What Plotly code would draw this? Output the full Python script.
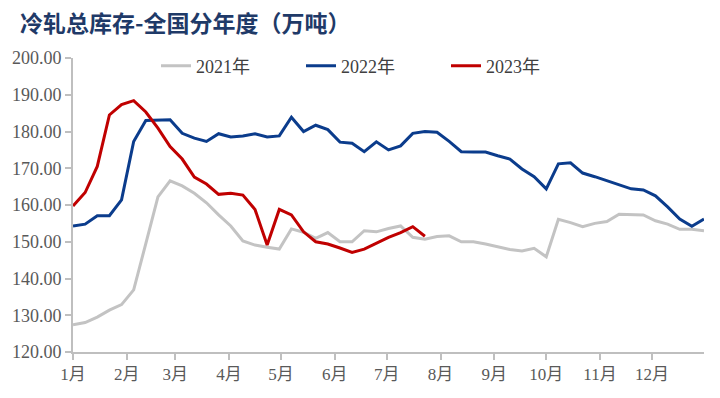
import plotly.graph_objects as go

# ---- data ----
weeks = list(range(1, 54))
month_labels = ["1月", "2月", "3月", "4月", "5月", "6月", "7月", "8月", "9月", "10月", "11月", "12月"]
month_start_days = [0, 31, 59, 90, 120, 151, 181, 212, 243, 273, 304, 334]
y_ticks = [120, 130, 140, 150, 160, 170, 180, 190, 200]

v2021 = [127.4, 128.0, 129.5, 131.4, 132.9, 136.9, 149.5, 162.2, 166.6, 165.2,
         163.2, 160.6, 157.3, 154.3, 150.2, 149.1, 148.5, 148.0, 153.5, 152.6,
         150.9, 152.5, 150.0, 150.0, 153.0, 152.7, 153.6, 154.3, 151.2, 150.7,
         151.4, 151.6, 150.0, 150.0, 149.4, 148.6, 147.9, 147.5, 148.2, 145.9,
         156.1, 155.2, 154.1, 155.0, 155.5, 157.5, 157.3, 157.3, 155.7, 154.8,
         153.4, 153.4, 153.0]
v2022 = [154.3, 154.8, 157.1, 157.1, 161.4, 177.3, 183.0, 183.2, 183.2, 179.5,
         178.2, 177.3, 179.4, 178.5, 178.8, 179.4, 178.5, 178.8, 183.9, 180.0,
         181.7, 180.5, 177.1, 176.8, 174.5, 177.2, 175.0, 176.1, 179.5, 180.0,
         179.8, 177.3, 174.5, 174.4, 174.4, 173.4, 172.5, 169.8, 167.7, 164.4,
         171.2, 171.5, 168.7, 167.7, 166.6, 165.3, 164.4, 164.1, 162.5, 159.5,
         156.2, 154.2, 156.2]
v2023 = [159.7, 163.4, 170.5, 184.5, 187.3, 188.4, 185.3, 180.9, 175.9, 172.5,
         167.6, 165.7, 162.9, 163.2, 162.7, 158.8, 149.1, 158.8, 157.3, 152.7,
         150.0, 149.4, 148.3, 147.1, 148.0, 149.7, 151.2, 152.5, 154.1, 151.5]

series = [("2021年", v2021, "#C3C3C3"), ("2022年", v2022, "#0B3C8C"), ("2023年", v2023, "#C00000")]

# x position of each weekly point (days since Jan 1)
days = [(w - 1) * 7 for w in weeks]

font_fam = "Liberation Serif, Noto Sans CJK SC, serif"
fig = go.Figure()
for name, vals, col in series:
    fig.add_trace(go.Scatter(x=days[:len(vals)], y=vals, mode="lines", name=name,
                             line=dict(color=col, width=3)))

fig.update_layout(
    width=720, height=398, autosize=False,
    margin=dict(l=73, r=16, t=58, b=46, autoexpand=False),
    paper_bgcolor="white", plot_bgcolor="white",
    title=dict(text="冷轧总库存-全国分年度（万吨）", x=20/720, xanchor="left",
               y=1-24/398, yanchor="middle", xref="container", yref="container",
               font=dict(family="Noto Sans CJK SC", size=23, color="#1F3A68", weight="bold")),
    legend=dict(orientation="h", xref="container", yref="container",
                x=156/720, xanchor="left", y=1-66/398, yanchor="middle",
                font=dict(family=font_fam, size=18, color="#404040"),
                entrywidth=100, entrywidthmode="pixels", bgcolor="rgba(0,0,0,0)"),
    showlegend=True,
)
fig.update_xaxes(range=[0, 364], tickvals=month_start_days, ticktext=month_labels,
                 ticks="outside", ticklen=6, tickcolor="#BFBFBF", tickwidth=2,
                 showline=True, linecolor="#BFBFBF", linewidth=2, showgrid=False, zeroline=False,
                 tickfont=dict(family=font_fam, size=17, color="#595959"))
fig.update_yaxes(range=[120, 200], tickvals=y_ticks, tickformat=".2f",
                 ticks="outside", ticklen=6, tickcolor="#BFBFBF", tickwidth=2,
                 showline=True, linecolor="#BFBFBF", linewidth=2, showgrid=False, zeroline=False,
                 tickfont=dict(family=font_fam, size=18, color="#595959"))

fig.write_html("out.html", config={"displayModeBar": False},
               post_script="document.body.style.margin='0';")
